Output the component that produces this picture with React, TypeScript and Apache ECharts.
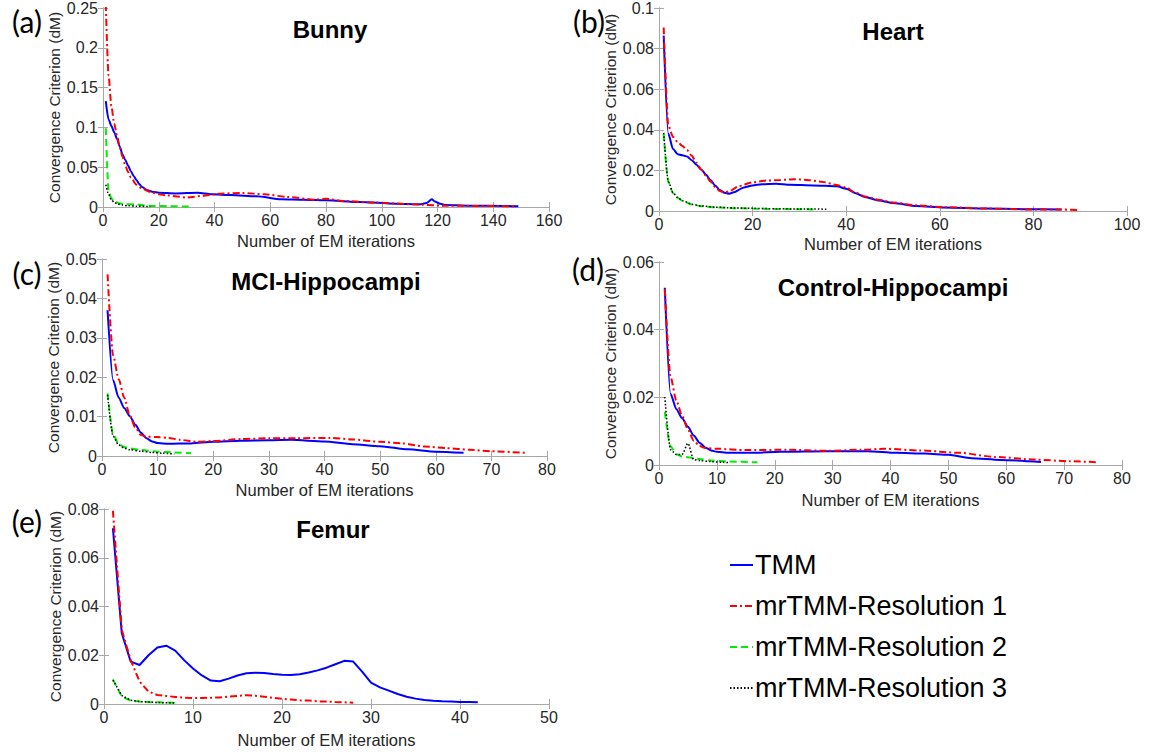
import React, { useEffect, useRef } from "react";
import * as echarts from "echarts";

// ---- series names and panel captions ----
const seriesNames = ["TMM", "mrTMM-Resolution 1", "mrTMM-Resolution 2", "mrTMM-Resolution 3"];
const panelLabels = ["(a)", "(b)", "(c)", "(d)", "(e)"];
const panelTitles = ["Bunny", "Heart", "MCI-Hippocampi", "Control-Hippocampi", "Femur"];

// ---- axis ranges ----
const xMax = [160, 100, 80, 80, 50];
const xStep = [20, 20, 10, 10, 10];
const yMax = [0.25, 0.1, 0.05, 0.06, 0.08];
const yStep = [0.05, 0.02, 0.01, 0.02, 0.02];

// ---- (a) Bunny: [iteration, dM] ----
const bunnyTMM = [[1,0.133],[2,0.11],[3,0.102],[4,0.094],[5,0.086],[6,0.076],[7,0.066],[8,0.059],[9,0.052],[10,0.045],[11,0.039],[12,0.034],[13,0.029],[14,0.025],[16,0.021],[18,0.019],[20,0.018],[26,0.017],[34,0.018],[39,0.016],[46,0.015],[55,0.0135],[64,0.0097],[72,0.009],[80,0.0084],[92,0.0063],[105,0.0042],[114,0.0034],[116,0.005],[118,0.0097],[119,0.007],[121,0.004],[123,0.0025],[131,0.0017],[144,0.0013],[149,0.0008]];
const bunnyRes1 = [[1,0.255],[2,0.165],[3,0.127],[4,0.105],[5,0.09],[6,0.075],[7,0.063],[8,0.052],[9,0.044],[10,0.037],[12,0.028],[14,0.023],[17,0.019],[20,0.016],[23,0.0145],[30,0.012],[36,0.014],[42,0.0168],[50,0.0176],[58,0.016],[66,0.0126],[76,0.0092],[80,0.0105],[86,0.0076],[98,0.0055],[111,0.0034],[122,0.0017],[135,0.0013],[148,0.0008]];
const bunnyRes2 = [[1,0.099],[2,0.02],[3,0.011],[4,0.007],[6,0.0045],[8,0.0035],[12,0.0032],[15,0.002],[18,0.0013],[24,0.0009],[31,0.0006]];
const bunnyRes3 = [[1,0.028],[2,0.016],[3,0.009],[4,0.006],[5,0.004],[7,0.0025],[9,0.0015],[12,0.001],[17,0.0005]];

// ---- (b) Heart ----
const heartTMM = [[1,0.0864],[2,0.038],[3,0.0305],[4,0.028],[5,0.0275],[6,0.0268],[7,0.025],[8,0.0228],[9,0.0205],[10,0.018],[11,0.0153],[12,0.0126],[13,0.0103],[14,0.009],[15,0.0085],[16,0.0092],[18,0.0115],[20,0.0126],[22,0.0132],[25,0.0134],[28,0.0129],[33,0.0126],[38,0.0122],[40,0.011],[42,0.0088],[44,0.0069],[47,0.0052],[50,0.004],[55,0.0025],[61,0.0017],[70,0.0012],[78,0.0009],[86,0.0008]];
const heartRes1 = [[1,0.0904],[2,0.042],[3,0.0365],[4,0.034],[5,0.032],[6,0.03],[7,0.0272],[8,0.0238],[9,0.0205],[10,0.0175],[11,0.0145],[12,0.0118],[13,0.0098],[14,0.009],[15,0.0097],[17,0.0122],[20,0.0141],[23,0.015],[26,0.0153],[29,0.0157],[32,0.0152],[35,0.0143],[38,0.0128],[40,0.0115],[42,0.009],[44,0.0072],[47,0.0055],[50,0.0042],[55,0.0028],[61,0.0019],[70,0.0012],[78,0.0008],[86,0.0007],[90,0.0005]];
const heartRes2 = [[1,0.038],[2,0.014],[3,0.0088],[4,0.0065],[5,0.005],[7,0.0032],[9,0.0024],[12,0.0018],[16,0.0014],[20,0.0012],[25,0.001],[30,0.0009],[33,0.0008]];
const heartRes3 = [[1,0.0385],[2,0.0145],[3,0.009],[4,0.0066],[5,0.0051],[7,0.0033],[9,0.0025],[12,0.0019],[16,0.0015],[20,0.0013],[25,0.0011],[30,0.001],[36,0.0009]];

// ---- (c) MCI-Hippocampi ----
const mciTMM = [[1,0.037],[2,0.0192],[3,0.0148],[4,0.0122],[5,0.0101],[6,0.0079],[7,0.0059],[8,0.0045],[9,0.0037],[10,0.0033],[12,0.0031],[16,0.0032],[20,0.0036],[25,0.0039],[30,0.004],[34,0.0041],[40,0.0037],[45,0.003],[50,0.0025],[55,0.0017],[60,0.0011],[65,0.0008]];
const mciRes1 = [[1,0.0461],[2,0.0255],[3,0.0195],[4,0.0148],[5,0.0102],[6,0.0072],[7,0.0053],[8,0.0049],[10,0.0048],[12,0.0046],[14,0.0041],[17,0.0036],[20,0.0038],[25,0.0043],[30,0.0045],[35,0.0045],[41,0.0046],[45,0.0042],[50,0.0036],[54,0.0032],[58,0.0024],[62,0.002],[66,0.0016],[70,0.0012],[76,0.0008]];
const mciRes2 = [[1,0.0159],[2,0.0055],[3,0.003],[4,0.0023],[5,0.0019],[7,0.0015],[10,0.0011],[13,0.0009],[16,0.0007]];
const mciRes3 = [[1,0.0155],[2,0.005],[3,0.0028],[4,0.002],[5,0.0016],[7,0.0012],[9,0.0009],[11,0.0007],[13,0.0005]];

// ---- (d) Control-Hippocampi ----
const ctrlTMM = [[1,0.0524],[2,0.021],[3,0.0165],[4,0.0138],[5,0.0113],[6,0.0087],[7,0.0066],[8,0.0052],[9,0.0043],[10,0.0039],[12,0.0036],[16,0.0036],[21,0.0039],[29,0.0041],[36,0.0041],[41,0.0036],[46,0.0034],[50,0.003],[54,0.002],[59,0.0015],[66,0.0009]];
const ctrlRes1 = [[1,0.052],[2,0.026],[3,0.019],[4,0.0145],[5,0.0105],[6,0.0072],[7,0.0056],[8,0.005],[10,0.0048],[15,0.0044],[22,0.0045],[29,0.0042],[35,0.0045],[39,0.0048],[45,0.0043],[52,0.0036],[58,0.0024],[65,0.0016],[71,0.0011],[76,0.0008]];
const ctrlRes2 = [[1,0.0157],[2,0.0055],[3,0.0032],[4,0.0025],[5,0.0023],[7,0.0018],[9,0.0013],[12,0.001],[17,0.0008]];
const ctrlRes3 = [[1,0.0201],[2,0.0045],[3,0.0031],[4,0.0031],[5,0.0064],[6,0.0016],[7,0.0013],[9,0.001],[11,0.0008],[12,0.0007]];

// ---- (e) Femur ----
const femurTMM = [[1,0.0721],[2,0.029],[3,0.0174],[4,0.016],[5,0.02],[6,0.0232],[7,0.0239],[8,0.0219],[9,0.018],[10,0.0146],[11,0.0117],[12,0.0096],[13,0.0093],[14,0.0104],[15,0.0117],[16,0.0126],[17,0.0128],[18,0.0127],[19,0.0123],[20,0.012],[21,0.0119],[22,0.0122],[23,0.0129],[24,0.0138],[25,0.0149],[26,0.0163],[27,0.0177],[28,0.0174],[29,0.0133],[30,0.0088],[31,0.0068],[32,0.0055],[33,0.0041],[34,0.003],[35,0.0022],[36,0.0016],[37,0.0013],[38,0.0011],[39,0.001],[40,0.0008],[41,0.0008],[42,0.0007]];
const femurRes1 = [[1,0.0793],[2,0.0304],[3,0.018],[4,0.0092],[5,0.0051],[6,0.0037],[7,0.0033],[8,0.0029],[9,0.0026],[10,0.0025],[11,0.0025],[12,0.0026],[13,0.0027],[14,0.003],[15,0.0033],[16,0.0036],[17,0.0034],[18,0.003],[19,0.0025],[20,0.0021],[21,0.0018],[22,0.0015],[23,0.0014],[24,0.0011],[25,0.001],[26,0.0008],[27,0.0007],[28,0.0005]];
const femurRes2 = [[1,0.0101],[2,0.003],[3,0.0014],[4,0.001],[5,0.0008],[6,0.0007],[7,0.0006],[8,0.0005]];
const femurRes3 = [[1,0.0098],[2,0.0035],[3,0.0015],[4,0.001],[5,0.0008],[6,0.0006],[7,0.0005],[8,0.0004]];

const panelData = [
  [bunnyTMM, bunnyRes1, bunnyRes2, bunnyRes3],
  [heartTMM, heartRes1, heartRes2, heartRes3],
  [mciTMM, mciRes1, mciRes2, mciRes3],
  [ctrlTMM, ctrlRes1, ctrlRes2, ctrlRes3],
  [femurTMM, femurRes1, femurRes2, femurRes3],
];

// ---- page layout (pixels) ----
const gridBoxes = [
  { left: 103, top: 8, width: 446, height: 199 },
  { left: 659, top: 8, width: 468, height: 203 },
  { left: 102, top: 259, width: 445, height: 197 },
  { left: 659, top: 262, width: 463, height: 203 },
  { left: 104, top: 509, width: 445, height: 195 },
];
const labelPos = [[27, 21], [589, 21], [27, 273], [588, 269], [27, 521]];
const titlePos = [[330, 29], [893, 31], [326, 281], [893, 287], [333, 529]];
const yNameGap = [31, 32, 30, 32, 30];
const xNameGap = [25, 24, 25, 26, 27];

const FONT = "'Liberation Sans', Arial, Helvetica, sans-serif";
const AXIS_GREY = "#a8a8a8";
const TEXT_GREY = "#262626";

const lineStyles = [
  { color: "#0000ff", width: 2, type: "solid" as any },
  { color: "#ff0000", width: 2, type: [7, 3, 2, 3] as any },
  { color: "#00ee00", width: 2, type: [7, 4] as any },
  { color: "#000000", width: 1.5, type: [1.5, 2] as any },
];

function buildOption() {
  const grid: any[] = [];
  const xAxis: any[] = [];
  const yAxis: any[] = [];
  const series: any[] = [];
  const graphic: any[] = [];

  gridBoxes.forEach((box, i) => {
    grid.push({ ...box, containLabel: false });
    const tick = { show: true, inside: true, length: 5, lineStyle: { color: AXIS_GREY } };
    const line = { show: true, lineStyle: { color: AXIS_GREY, width: 1 } };
    xAxis.push({
      type: "value",
      gridIndex: i,
      min: 0,
      max: xMax[i],
      interval: xStep[i],
      axisLine: line,
      axisTick: tick,
      splitLine: { show: false },
      axisLabel: { color: TEXT_GREY, fontFamily: FONT, fontSize: 16, margin: 5 },
      name: "Number of EM iterations",
      nameLocation: "middle",
      nameGap: xNameGap[i],
      nameTextStyle: { color: TEXT_GREY, fontFamily: FONT, fontSize: 16.5 },
    });
    xAxis.push({
      type: "value",
      gridIndex: i,
      position: "top",
      min: 0,
      max: xMax[i],
      interval: xStep[i],
      axisLine: line,
      axisTick: tick,
      axisLabel: { show: false },
      splitLine: { show: false },
    });
    yAxis.push({
      type: "value",
      gridIndex: i,
      min: 0,
      max: yMax[i],
      interval: yStep[i],
      axisLine: line,
      axisTick: tick,
      splitLine: { show: false },
      axisLabel: { color: TEXT_GREY, fontFamily: FONT, fontSize: 16, margin: 5 },
      name: "Convergence Criterion (dM)",
      nameLocation: "middle",
      nameGap: yNameGap[i],
      nameTextStyle: { color: TEXT_GREY, fontFamily: FONT, fontSize: 15.5 },
    });
    yAxis.push({
      type: "value",
      gridIndex: i,
      position: "right",
      min: 0,
      max: yMax[i],
      interval: yStep[i],
      axisLine: line,
      axisTick: tick,
      axisLabel: { show: false },
      splitLine: { show: false },
    });

    panelData[i].forEach((data, k) => {
      series.push({
        name: seriesNames[k],
        type: "line",
        xAxisIndex: 2 * i,
        yAxisIndex: 2 * i,
        data,
        showSymbol: false,
        symbol: "none",
        smooth: i === 4 ? false : 0.25,
        smoothMonotone: "x",
        lineStyle: { ...lineStyles[k] },
        itemStyle: { color: lineStyles[k].color },
        clip: true,
        z: 2 + k,
      });
    });

    graphic.push({
      type: "text",
      x: labelPos[i][0],
      y: labelPos[i][1],
      style: {
        text: panelLabels[i],
        font: "30px Lato, 'Open Sans', sans-serif",
        fill: "#000",
        textAlign: "center",
        textVerticalAlign: "middle",
        align: "center",
        verticalAlign: "middle",
      },
    });
    graphic.push({
      type: "text",
      x: titlePos[i][0],
      y: titlePos[i][1],
      style: {
        text: panelTitles[i],
        font: `bold 24px ${FONT}`,
        fill: "#000",
        textAlign: "center",
        textVerticalAlign: "middle",
        align: "center",
        verticalAlign: "middle",
      },
    });
  });

  return {
    animation: false,
    backgroundColor: "#ffffff",
    grid,
    xAxis,
    yAxis,
    series,
    graphic,
    legend: {
      data: seriesNames,
      orient: "vertical",
      left: 729,
      top: 550,
      padding: 0,
      itemWidth: 23,
      itemHeight: 14,
      itemGap: 11,
      itemStyle: { opacity: 0 },
      textStyle: { color: "#000", fontFamily: FONT, fontSize: 27, lineHeight: 30, padding: [0, 0, 0, -3] },
      selectedMode: false,
    },
  };
}

export default function App() {
  const ref = useRef<HTMLDivElement>(null);
  useEffect(() => {
    if (!ref.current) return;
    const chart = echarts.init(ref.current, null, { renderer: "svg" });
    chart.setOption(buildOption() as any);
    return () => chart.dispose();
  }, []);
  return (
    <div
      ref={ref}
      style={{ position: "fixed", left: 0, top: 0, width: 1155, height: 752, background: "#fff" }}
    />
  );
}
